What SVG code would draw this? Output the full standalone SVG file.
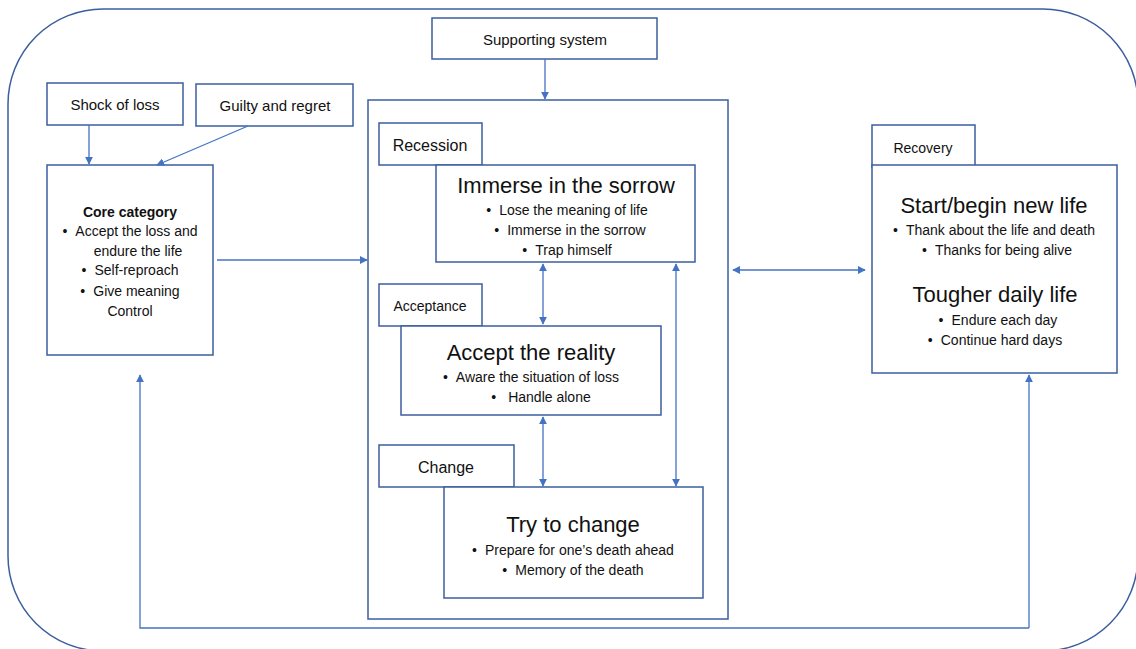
<svg xmlns="http://www.w3.org/2000/svg" width="1136" height="649" viewBox="0 0 1136 649">
<defs>
<marker id="ah" viewBox="0 0 10 10" refX="9" refY="5" markerWidth="8" markerHeight="8" markerUnits="userSpaceOnUse" orient="auto-start-reverse">
<path d="M0,0 L10,5 L0,10 z" fill="#4472C4"/>
</marker>
<style>
.box{fill:#fff;stroke:#3B5E9E;stroke-width:1.5}
.outer{fill:none;stroke:#3B5E9E;stroke-width:1.5}
.con{fill:none;stroke:#4472C4;stroke-width:1.3}
.t{font-family:"Liberation Sans",Arial,sans-serif;fill:#111;text-anchor:middle}
.lbl{font-size:15px}
.lbl2{font-size:16px}
.big{font-size:22px}
.blt{font-size:14px}
.bold{font-weight:bold}
</style>
</defs>
<rect width="1136" height="649" fill="#fff"/>
<rect class="outer" x="8" y="9" width="1130" height="642" rx="95" ry="95"/>

<g id="supporting">
<rect class="box" x="432" y="18" width="225" height="41"/>
<text class="t lbl" x="545" y="45">Supporting system</text>
</g>
<g id="shock">
<rect class="box" x="47" y="83" width="136" height="42"/>
<text class="t lbl" x="115" y="110">Shock of loss</text>
</g>
<g id="guilty">
<rect class="box" x="196" y="84" width="157" height="42"/>
<text class="t lbl" x="275" y="111">Guilty and regret</text>
</g>
<g id="core">
<rect class="box" x="47" y="165" width="166" height="190"/>
<text class="t blt bold" x="130" y="217">Core category</text>
<text class="t blt" x="130" y="236">•<tspan dx="8">Accept the loss and</tspan></text>
<text class="t blt" x="138" y="256">endure the life</text>
<text class="t blt" x="130" y="275">•<tspan dx="8">Self-reproach</tspan></text>
<text class="t blt" x="130" y="296">•<tspan dx="8">Give meaning</tspan></text>
<text class="t blt" x="130" y="316">Control</text>
</g>

<g id="central">
<rect class="box" x="368" y="100" width="360" height="519"/>
</g>
<g id="recession-label">
<rect class="box" x="379" y="123" width="103" height="42"/>
<text class="t lbl2" x="430" y="151">Recession</text>
</g>
<g id="immerse">
<rect class="box" x="436" y="165" width="259" height="97"/>
<text class="t big" x="566" y="193">Immerse in the sorrow</text>
<text class="t blt" x="567" y="215">•<tspan dx="8">Lose the meaning of life</tspan></text>
<text class="t blt" x="570" y="235">•<tspan dx="8">Immerse in the sorrow</tspan></text>
<text class="t blt" x="567" y="255">•<tspan dx="8">Trap himself</tspan></text>
</g>
<g id="acceptance-label">
<rect class="box" x="379" y="284" width="103" height="42"/>
<text class="t blt" x="430" y="311">Acceptance</text>
</g>
<g id="accept">
<rect class="box" x="401" y="326" width="260" height="89"/>
<text class="t big" x="531" y="360">Accept the reality</text>
<text class="t blt" x="531" y="382">•<tspan dx="8">Aware the situation of loss</tspan></text>
<text class="t blt" x="541" y="402">•<tspan dx="12">Handle alone</tspan></text>
</g>
<g id="change-label">
<rect class="box" x="379" y="445" width="135" height="42"/>
<text class="t lbl2" x="446" y="473">Change</text>
</g>
<g id="try">
<rect class="box" x="444" y="487" width="259" height="111"/>
<text class="t big" x="573" y="532">Try to change</text>
<text class="t blt" x="573" y="555">•<tspan dx="8">Prepare for one’s death ahead</tspan></text>
<text class="t blt" x="573" y="575">•<tspan dx="8">Memory of the death</tspan></text>
</g>

<g id="recovery-label">
<rect class="box" x="872" y="125" width="103" height="42"/>
<text class="t blt" x="923" y="153">Recovery</text>
</g>
<g id="recovery">
<rect class="box" x="872" y="165" width="245" height="208"/>
<text class="t big" x="994" y="213">Start/begin new life</text>
<text class="t blt" x="994" y="235">•<tspan dx="8">Thank about the life and death</tspan></text>
<text class="t blt" x="997" y="255">•<tspan dx="8">Thanks for being alive</tspan></text>
<text class="t big" x="995" y="302">Tougher daily life</text>
<text class="t blt" x="998" y="325">•<tspan dx="8">Endure each day</tspan></text>
<text class="t blt" x="995" y="345">•<tspan dx="8">Continue hard days</tspan></text>
</g>

<g id="connectors">
<line class="con" x1="545" y1="59" x2="545" y2="99" marker-end="url(#ah)"/>
<line class="con" x1="89" y1="125" x2="89" y2="164" marker-end="url(#ah)"/>
<line class="con" x1="248" y1="126" x2="157" y2="165" marker-end="url(#ah)"/>
<line class="con" x1="217" y1="260" x2="367" y2="260" marker-end="url(#ah)"/>
<line class="con" x1="543" y1="264" x2="543" y2="324" marker-start="url(#ah)" marker-end="url(#ah)"/>
<line class="con" x1="543" y1="417" x2="543" y2="486" marker-start="url(#ah)" marker-end="url(#ah)"/>
<line class="con" x1="676" y1="264" x2="676" y2="486" marker-start="url(#ah)" marker-end="url(#ah)"/>
<line class="con" x1="733" y1="270" x2="865" y2="270" marker-start="url(#ah)" marker-end="url(#ah)"/>
<polyline class="con" points="1029,628 140,628 140,375" marker-end="url(#ah)"/>
<line class="con" x1="1029" y1="628" x2="1029" y2="375" marker-end="url(#ah)"/>
</g>
</svg>
